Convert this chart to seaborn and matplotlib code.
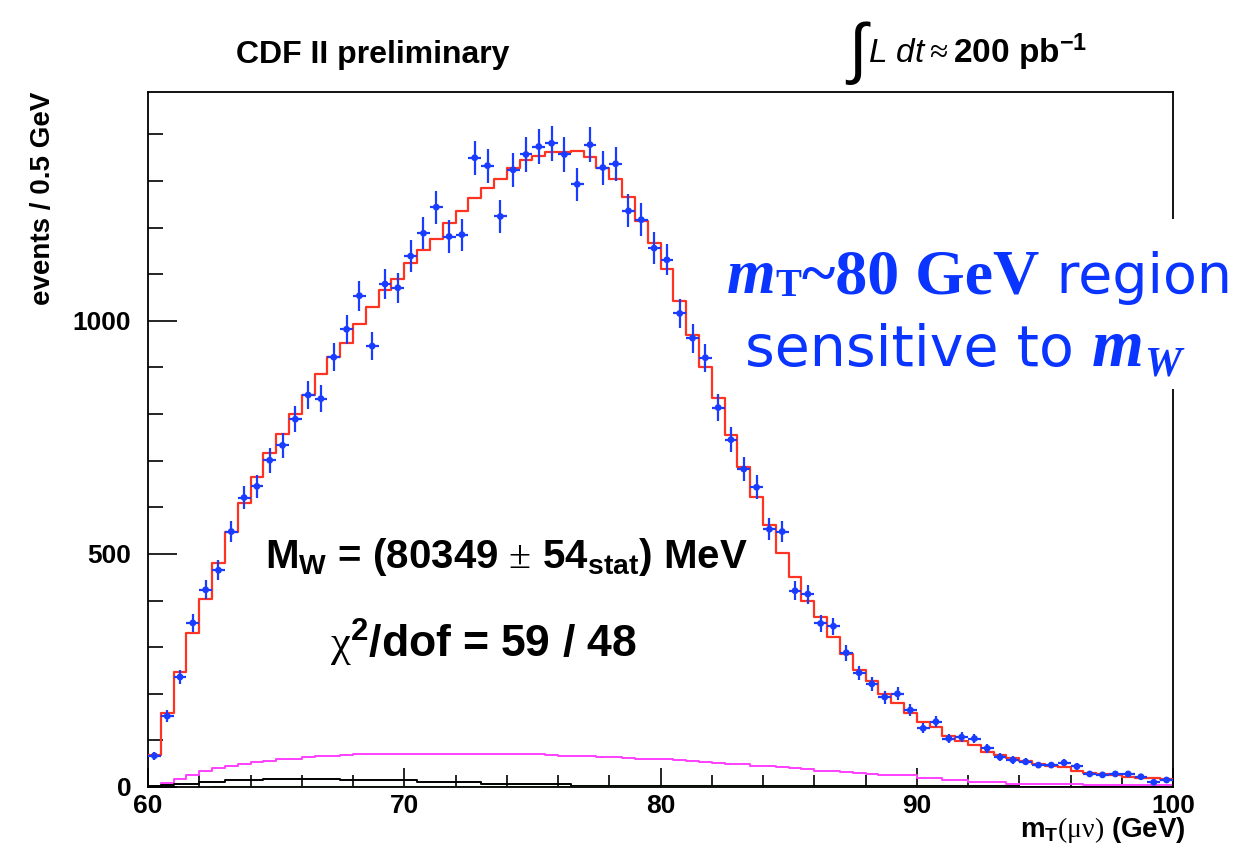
import numpy as np
import pandas as pd
import matplotlib
matplotlib.use("Agg")
import matplotlib.pyplot as plt
import seaborn as sns
from matplotlib.patches import Rectangle
from matplotlib.text import Annotation
from matplotlib.ticker import MultipleLocator

# 0.5 GeV bins from 60 to 100 GeV
edges = np.arange(60.0, 100.01, 0.5)
centers = edges[:-1] + 0.25

# muon-channel data, events / 0.5 GeV
data_counts = [67, 152, 236, 352, 423, 465, 548, 621, 645, 701,
               733, 789, 841, 833, 922, 982, 1054, 946, 1079, 1071,
               1139, 1188, 1244, 1181, 1185, 1350, 1333, 1224, 1324, 1357,
               1374, 1381, 1357, 1293, 1378, 1329, 1337, 1236, 1217, 1156,
               1131, 1016, 963, 921, 814, 745, 682, 643, 553, 548,
               421, 414, 351, 345, 288, 245, 221, 193, 200, 165,
               126, 140, 104, 107, 104, 83, 64, 58, 54, 47,
               47, 52, 44, 28, 26, 28, 28, 22, 10, 15]

# best fit simulation + backgrounds (red)
fit_counts = [69, 158, 247, 331, 404, 480, 548, 609, 665, 717,
              757, 801, 841, 885, 923, 953, 993, 1029, 1066, 1090,
              1124, 1151, 1175, 1211, 1235, 1264, 1284, 1305, 1328, 1345,
              1354, 1362, 1362, 1365, 1351, 1329, 1305, 1265, 1215, 1168,
              1112, 1043, 970, 902, 834, 755, 687, 623, 562, 503,
              450, 398, 364, 321, 285, 251, 228, 200, 181, 159,
              139, 128, 109, 99, 90, 76, 69, 62, 56, 49,
              45, 42, 35, 31, 28, 26, 22, 20, 19, 17]

# backgrounds
bkg_magenta = [0, 8, 17, 26, 35, 41, 45, 49, 53, 56,
               59, 61, 64, 66, 67, 69, 70, 71, 71, 71,
               71, 71, 71, 71, 71, 71, 71, 71, 71, 71,
               71, 68, 67, 67, 66, 64, 64, 63, 60, 60,
               59, 57, 56, 53, 52, 50, 49, 46, 45, 42,
               41, 39, 35, 34, 32, 30, 27, 26, 26, 25,
               20, 19, 16, 15, 11, 10, 10, 7, 7, 7,
               7, 7, 7, 4, 4, 4, 4, 4, 4, 4]

bkg_black = [3, 4, 6, 7, 10, 11, 14, 14, 15, 18,
             18, 18, 18, 18, 18, 14, 14, 14, 14, 14,
             14, 11, 11, 11, 11, 11, 7, 7, 7, 7,
             7, 7, 7, 3, 3, 3, 3, 3, 3, 3,
             3, 3, 3, 3, 3, 3, 3, 3, 3, 3,
             3, 3, 3, 3, 3, 3, 3, 3, 3, 3,
             3, 3, 3, 3, 3, 3, 3, 3, 1, 1,
             1, 1, 1, 1, 1, 1, 1, 1, 1, 1]

bkg_green = [0] * 5 + [1] * 63 + [0] * 12

BLUE = '#1a3cff'
TEXT_BLUE = '#0a34ff'


def step_frame(vals, lo=0, hi=None):
    vals = np.asarray(vals, dtype=float)
    if hi is None:
        hi = len(vals)
    v = vals[lo:hi]
    return pd.DataFrame({'mT': edges[lo:hi + 1], 'n': np.append(v, v[-1])})


sns.set_style("white")
plt.rcParams['font.family'] = ['Liberation Sans', 'DejaVu Sans']
plt.rcParams['mathtext.fontset'] = 'custom'
plt.rcParams['mathtext.rm'] = 'Liberation Serif'
plt.rcParams['mathtext.it'] = 'Liberation Sans:italic'
plt.rcParams['mathtext.bf'] = 'Liberation Sans:bold'
for key in ['text.color', 'axes.labelcolor', 'xtick.color', 'ytick.color', 'axes.edgecolor']:
    plt.rcParams[key] = 'black'

W, H = 1242, 861
fig = plt.figure(figsize=(W / 100, H / 100), dpi=100)
ax = fig.add_axes([148 / W, 1 - 787 / H, 1025 / W, 695 / H])

# backgrounds
sns.lineplot(data=step_frame(bkg_magenta), x='mT', y='n', drawstyle='steps-post',
             color='#ff40ff', lw=1.4, ax=ax, zorder=2)
sns.lineplot(data=step_frame(bkg_black), x='mT', y='n', drawstyle='steps-post',
             color='black', lw=1.4, ax=ax, zorder=2)
g = np.nonzero(bkg_green)[0]
sns.lineplot(data=step_frame(bkg_green, g[0], g[-1] + 1), x='mT', y='n',
             drawstyle='steps-post', color='#55dd55', lw=2.2, ax=ax, zorder=2)

# fit
sns.lineplot(data=step_frame(fit_counts), x='mT', y='n', drawstyle='steps-post',
             color='#ff3322', lw=1.6, ax=ax, zorder=3)

# data points
data = np.asarray(data_counts, dtype=float)
ax.errorbar(centers, data, xerr=0.25, yerr=np.sqrt(data), fmt='none',
            ecolor=BLUE, elinewidth=1.6, capsize=0, zorder=4)
sns.scatterplot(x=centers, y=data, color=BLUE, s=24, edgecolor='none', ax=ax, zorder=5)

ax.set_xlim(60, 100)
ax.set_ylim(0, 1491)
ax.xaxis.set_major_locator(MultipleLocator(10))
ax.xaxis.set_minor_locator(MultipleLocator(2))
ax.yaxis.set_major_locator(MultipleLocator(500))
ax.yaxis.set_minor_locator(MultipleLocator(100))
ax.tick_params(axis='both', which='both', direction='in', top=False, right=False,
               bottom=True, left=True, width=1.2, color='black')
ax.tick_params(axis='y', which='major', length=21, pad=12, labelsize=19)
ax.tick_params(axis='y', which='minor', length=11)
ax.tick_params(axis='x', which='major', length=14, pad=5, labelsize=19)
ax.tick_params(axis='x', which='minor', length=8.5)
for lab in ax.get_xticklabels() + ax.get_yticklabels():
    lab.set_fontweight('bold')
for sp in ax.spines.values():
    sp.set_linewidth(1.3)
    sp.set_color('black')

ax.set_ylabel('events / 0.5 GeV', fontsize=20, fontweight='bold', loc='top')
ax.yaxis.set_label_coords((56 - 148) / 1025, 1.0)
ax.set_xlabel(r'$\mathbf{m_T}\mathrm{(\mu\nu)}$ (GeV)', fontsize=20,
              fontweight='bold', loc='right')
ax.xaxis.set_label_coords((1186 - 148) / 1025, -28 / 695)

# fit results
fig.text(265 / W, 1 - 568 / H, r'$\mathbf{M_W}$ = (80349 $\pm$ $\mathbf{54_{stat}}$) MeV',
         fontsize=29, fontweight='bold', va='baseline')
fig.text(330 / W, 1 - 658 / H, r'$\mathrm{\chi}^{\mathbf{2}}$/dof = 59 / 48',
         fontsize=32, fontweight='bold', va='baseline')

# header
fig.text(373 / W, 1 - 63 / H, 'CDF II preliminary', fontsize=23, fontweight='bold',
         ha='center', va='baseline')
fig.text(848 / W, 1 - 71 / H, '\u222b', fontsize=48, va='baseline')
fig.text(868 / W, 1 - 63 / H, r'$\mathit{L\ dt} \approx \mathbf{200\ pb^{-1}}$',
         fontsize=24, va='baseline')

# annotation box on the right
fig.add_artist(Rectangle((722 / W, 1 - 389 / H), (W - 722) / W, 170 / H,
                         transform=fig.transFigure, facecolor='white',
                         edgecolor='none', zorder=5))


def piece(text, prev, base_px, dx=0, **kw):
    a = Annotation(text, xy=(1, H - base_px), xycoords=(prev, 'figure pixels'),
                   xytext=(dx, 0), textcoords='offset pixels',
                   va='baseline', ha='left', color=TEXT_BLUE, zorder=6, **kw)
    fig.add_artist(a)
    return a


serif_bi = dict(family='Liberation Serif', weight='bold', style='italic')
serif_b = dict(family='Liberation Serif', weight='bold')
sans = dict(family='DejaVu Sans')

t1 = fig.text(727 / W, 1 - 293 / H, 'm', fontsize=45, color=TEXT_BLUE,
              va='baseline', zorder=6, **serif_bi)
t2 = piece('T', t1, 296, fontsize=28, **serif_b)
t3 = piece('~80 GeV', t2, 293, fontsize=46, **serif_b)
t4 = piece(' region', t3, 293, fontsize=40, **sans)

s1 = fig.text(745 / W, 1 - 366 / H, 'sensitive to ', fontsize=41, color=TEXT_BLUE,
              va='baseline', zorder=6, **sans)
s2 = piece('m', s1, 366, fontsize=48, **serif_bi)
s3 = piece('W', s2, 375, fontsize=30, **serif_bi)

fig.savefig('out.png', dpi=100)
